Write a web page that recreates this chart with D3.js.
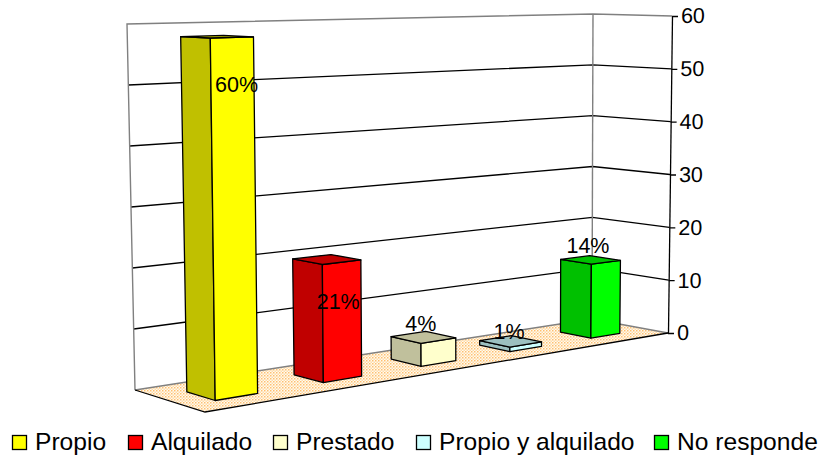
<!DOCTYPE html>
<html>
<head>
<meta charset="utf-8">
<script src="https://cdn.jsdelivr.net/npm/d3@7"></script>
<style>
html, body { margin: 0; padding: 0; background: #fff; }
text { font-family: "Liberation Sans", Arial, sans-serif; fill: #000; }
</style>
</head>
<body>
<svg id="chart" width="821" height="458"></svg>
<script>
var categories = ["Propio", "Alquilado", "Prestado", "Propio y alquilado", "No responde"];
var values = [58, 19.7, 4, 0.8, 13.8];
var pctLabels = ["60%", "21%", "4%", "1%", "14%"];
var axisTicks = [0, 10, 20, 30, 40, 50, 60];

var frontColors = ["#ffff00", "#ff0000", "#ffffcc", "#ccffff", "#00ff00"];
var sideColors = ["#c0c000", "#c00000", "#c0c09c", "#9cc0c0", "#00c000"];

// label nudges from the top centre of each bar, legend start positions
var labelShift = [[21, 55], [13, 50], [-1, -6], [0, -2], [-1, -7]];
var legendX = [12, 128, 273, 416, 654];

// floor corners on screen: back-left, back-right, front-right, front-left
var floorQuad = [[135, 390], [592, 319], [668, 333], [205, 412]];
// wall tops above back-left, back-right, front-right
var wallTops = [[127, 24], [593, 14], [672, 16]];

function floorMap(q) {
    var x0 = q[0][0], y0 = q[0][1], x1 = q[1][0], y1 = q[1][1],
        x2 = q[2][0], y2 = q[2][1], x3 = q[3][0], y3 = q[3][1];
    var dx1 = x1 - x2, dx2 = x3 - x2, sx = x0 - x1 + x2 - x3,
        dy1 = y1 - y2, dy2 = y3 - y2, sy = y0 - y1 + y2 - y3;
    var det = dx1 * dy2 - dx2 * dy1;
    var g = (sx * dy2 - dx2 * sy) / det, h = (dx1 * sy - sx * dy1) / det;
    var a = x1 - x0 + g * x1, b = x3 - x0 + h * x3,
        d = y1 - y0 + g * y1, e = y3 - y0 + h * y3;
    return function(u, v) {
        var w = g * u + h * v + 1;
        return [(a * u + b * v + x0) / w, (d * u + e * v + y0) / w];
    };
}

// plane through three floor points, gives the offset to the wall top anywhere on the floor
function planeFit(k) {
    var p = floorQuad, t = wallTops;
    var z0 = t[0][k] - p[0][k], z1 = t[1][k] - p[1][k], z2 = t[2][k] - p[2][k];
    var ax = p[1][0] - p[0][0], ay = p[1][1] - p[0][1],
        bx = p[2][0] - p[0][0], by = p[2][1] - p[0][1];
    var det = ax * by - bx * ay;
    var m = ((z1 - z0) * by - (z2 - z0) * ay) / det,
        n = (ax * (z2 - z0) - bx * (z1 - z0)) / det;
    return function(pt) { return z0 + m * (pt[0] - p[0][0]) + n * (pt[1] - p[0][1]); };
}

var onFloor = floorMap(floorQuad), riseX = planeFit(0), riseY = planeFit(1);

var xScale = d3.scaleBand().domain(categories).range([-0.009, 0.991]).paddingInner(0.62).paddingOuter(0.31);
var depthScale = d3.scaleLinear().domain([0, 1]).range([0.32, 0.72]);
var yScale = d3.scaleLinear().domain([0, 60]).range([0, 1]);

// u along the categories, v from the back wall to the front, h in axis units
function project(u, v, h) {
    var a = onFloor(u, v), t = yScale(h);
    return [a[0] + riseX(a) * t, a[1] + riseY(a) * t];
}

var line = d3.line();
var svg = d3.select("#chart");

var dots = svg.append("defs").append("pattern")
    .attr("id", "floorDots")
    .attr("width", 3).attr("height", 3)
    .attr("patternUnits", "userSpaceOnUse");
dots.append("rect").attr("width", 3).attr("height", 3).attr("fill", "#fffaf0");
dots.append("rect").attr("width", 1.5).attr("height", 1.5).attr("fill", "#ffc070");
dots.append("rect").attr("x", 1.5).attr("y", 1.5).attr("width", 1.5).attr("height", 1.5).attr("fill", "#ffdca8");

// floor
svg.append("path")
    .attr("d", line(floorQuad) + "Z")
    .attr("fill", "url(#floorDots)");

// grid on back wall and side wall
svg.append("g").selectAll("path")
    .data(axisTicks.filter(function(d) { return d > 0 && d < 60; }))
    .enter().append("path")
    .attr("d", function(d) {
        return line([project(0, 0, d), project(1, 0, d), project(1, 1, d)]);
    })
    .attr("fill", "none")
    .attr("stroke", "#000")
    .attr("stroke-width", 1.3);

// grey wall edges
var wallEdges = [
    [project(0, 0, 0), project(0, 0, 60), project(1, 0, 60), project(1, 1, 60)],
    [project(1, 0, 0), project(1, 0, 60)],
    [project(0, 0, 0), project(1, 0, 0), project(1, 1, 0)]
];
svg.append("g").selectAll("path")
    .data(wallEdges)
    .enter().append("path")
    .attr("d", function(d) { return line(d); })
    .attr("fill", "none")
    .attr("stroke", "#808080")
    .attr("stroke-width", 1.4);

// front edges of the floor
svg.append("path")
    .attr("d", line([project(0, 0, 0), project(0, 1, 0), project(1, 1, 0)]))
    .attr("fill", "none")
    .attr("stroke", "#000")
    .attr("stroke-width", 1.3);

// axis, slanted to follow the front right corner of the box
var axisBase = project(1, 1, 0), axisTop = project(1, 1, 60);
var axisScale = d3.scaleLinear().domain([0, 60]).range([0, axisTop[1] - axisBase[1]]);
var axisSkew = Math.atan((axisTop[0] - axisBase[0]) / (axisBase[1] - axisTop[1])) * 180 / Math.PI;
var axisG = svg.append("g")
    .attr("transform", "translate(" + axisBase[0] + "," + axisBase[1] + ") skewX(" + (-axisSkew) + ")")
    .call(d3.axisRight(axisScale).tickValues(axisTicks).tickSize(6).tickPadding(3).tickSizeOuter(0));
axisG.selectAll("path, line").attr("stroke", "#000").attr("stroke-width", 1.3);
axisG.selectAll("text")
    .style("font-size", "21.5px")
    .style("font-family", '"Liberation Sans", Arial, sans-serif');

// bars
categories.forEach(function(c, i) {
    var u0 = xScale(c), u1 = u0 + xScale.bandwidth();
    var v0 = depthScale(0), v1 = depthScale(1);
    var h = values[i];
    var g = svg.append("g");
    function face(fill, pts) {
        g.append("path")
            .attr("d", line(pts) + "Z")
            .attr("fill", fill)
            .attr("stroke", "#000")
            .attr("stroke-width", 1.3)
            .attr("stroke-linejoin", "round");
    }
    face(sideColors[i], [project(u0, v0, 0), project(u0, v1, 0), project(u0, v1, h), project(u0, v0, h)]);
    face(frontColors[i], [project(u0, v1, 0), project(u1, v1, 0), project(u1, v1, h), project(u0, v1, h)]);
    face(sideColors[i], [project(u0, v0, h), project(u0, v1, h), project(u1, v1, h), project(u1, v0, h)]);
});

// value labels
svg.append("g").selectAll("text")
    .data(categories)
    .enter().append("text")
    .attr("text-anchor", "middle")
    .attr("font-size", 21.5)
    .attr("x", function(d, i) {
        var u = xScale(d) + xScale.bandwidth() / 2;
        return project(u, 0.5, values[i])[0] + labelShift[i][0];
    })
    .attr("y", function(d, i) {
        var u = xScale(d) + xScale.bandwidth() / 2;
        return project(u, 0.5, values[i])[1] + labelShift[i][1];
    })
    .text(function(d, i) { return pctLabels[i]; });

// legend
var legend = svg.append("g").selectAll("g")
    .data(categories)
    .enter().append("g")
    .attr("transform", function(d, i) { return "translate(" + legendX[i] + ",450)"; });
legend.append("rect")
    .attr("x", 0.5).attr("y", -14.5)
    .attr("width", 14).attr("height", 14)
    .attr("fill", function(d, i) { return frontColors[i]; })
    .attr("stroke", "#000")
    .attr("stroke-width", 1.3);
legend.append("text")
    .attr("x", 23)
    .attr("font-size", 24.6)
    .text(function(d) { return d; });
</script>
</body>
</html>
